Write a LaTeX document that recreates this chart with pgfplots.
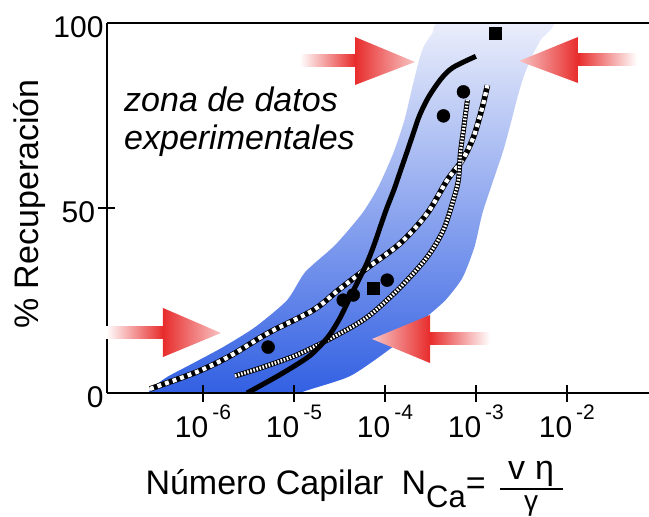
\documentclass[border=0pt]{standalone}
\usepackage{pgfplots}
\pgfplotsset{compat=1.18}
\usepackage{fontspec}
\setmainfont{Liberation Sans}
\definecolor{bandbot}{RGB}{45,92,226}
\definecolor{bandmid}{RGB}{122,150,236}
\definecolor{bandtop}{RGB}{236,239,251}
\definecolor{arred}{RGB}{232,44,44}
\definecolor{arpink}{RGB}{248,196,196}
\newcommand\ex[1]{\hspace{4pt}\raisebox{18pt}{\fontsize{21}{21}\selectfont #1}}
\newcommand\capfrac{\mbox{\rlap{\raisebox{4.5pt}{\rule{63pt}{1.8pt}}}\makebox[63pt]{\raisebox{15pt}{v\hspace{10pt}η}}\hspace{-63pt}\makebox[63pt]{\raisebox{-16pt}{\fontsize{28}{28}\selectfont γ}}}}
\begin{document}
\begin{tikzpicture}
\path[use as bounding box] (-107pt,-124pt) rectangle (542pt,393pt);
\begin{axis}[
  at={(0pt,0pt)}, anchor=south west,
  scale only axis, width=542pt, height=370pt,
  xmode=log, xmin=8.8e-8, xmax=0.08, ymin=0, ymax=100,
  axis x line=box, axis y line=left,
  axis line style={-, line width=1.6pt},
  axis on top,
  xtick={1e-6,1e-5,1e-4,1e-3,1e-2},
  xticklabels={10\ex{-6},10\ex{-5},10\ex{-4},10\ex{-3},10\ex{-2}},
  xtick pos=left, xminorticks=false,
  ytick={50}, yticklabels={50},
  extra y ticks={0,100}, extra y tick labels={0,100},
  extra y tick style={major tick length=0pt},
  tick align=center, major tick length=17pt,
  tick style={line width=1.6pt, black},
  tick label style={font=\fontsize{30}{30}\selectfont},
  yticklabel style={yshift=-4pt},
  label style={font=\fontsize{34}{40}\selectfont},
  ylabel={\% Recuperación},
  ylabel style={at={(axis description cs:-0.1255,0.511)}, anchor=base},
  xlabel={Número Capilar\hspace{18pt}N\raisebox{-13pt}{\fontsize{31}{31}\selectfont Ca}=\hspace{14pt}\capfrac},
  xlabel style={at={(axis description cs:0.0646,-0.273)}, anchor=base west},
]
% blue band of experimental data
\addplot[draw=none, smooth, tension=0.4, top color=bandtop, middle color=bandmid, bottom color=bandbot] coordinates {
 (1.10e-5,-3) (1.17e-5,0) (4.16e-5,4.6) (1.30e-4,13.0) (2.79e-4,20.3) (4.63e-4,25.1)
 (7.11e-4,31.1) (9.66e-4,39.5) (1.18e-3,48.6) (1.56e-3,57.6) (2.01e-3,65.7)
 (2.47e-3,73.8) (2.87e-3,80.0) (3.34e-3,85.4) (4.09e-3,90.8) (5.14e-3,95.4)
 (6.64e-3,100.5) (4.40e-4,100.5) (3.33e-4,97.3) (2.65e-4,93.5) (2.33e-4,89.2)
 (2.00e-4,82.7) (1.64e-4,73.8) (1.24e-4,64.9) (8.46e-5,55.7) (5.64e-5,48.6)
 (2.84e-5,40.0) (1.33e-5,32.7) (8.41e-6,25.1) (3.74e-6,17.8) (1.66e-6,12.4)
 (7.19e-7,7.6) (4.02e-7,4.3) (2.61e-7,0.8) (2.40e-7,-3)
} -- cycle;
% line A (coarse dashed)
\addplot[black, line width=5.6pt, smooth] coordinates {
 (2.61e-7,1.1) (8.59e-7,5.7) (1.98e-6,10.0) (5.20e-6,16.2) (1.63e-5,22.4) (3.07e-5,27.8)
 (6.40e-5,33.8) (1.48e-4,40.5) (2.93e-4,48.6) (4.86e-4,57.6) (7.11e-4,63.0)
 (9.42e-4,69.2) (1.18e-3,77.3) (1.34e-3,83.2)};
\addplot[white, line width=4.2pt, dash pattern=on 4pt off 4pt, smooth] coordinates {
 (2.61e-7,1.1) (8.59e-7,5.7) (1.98e-6,10.0) (5.20e-6,16.2) (1.63e-5,22.4) (3.07e-5,27.8)
 (6.40e-5,33.8) (1.48e-4,40.5) (2.93e-4,48.6) (4.86e-4,57.6) (7.11e-4,63.0)
 (9.42e-4,69.2) (1.18e-3,77.3) (1.34e-3,83.2)};
% line B (fine hatched)
\addplot[black, line width=5pt, smooth] coordinates {
 (2.25e-6,4.6) (4.58e-6,7.0) (1.08e-5,10.3) (2.70e-5,15.1) (6.40e-5,20.5) (1.48e-4,28.6)
 (2.93e-4,36.8) (4.40e-4,44.1) (5.66e-4,52.2) (6.43e-4,57.6) (6.76e-4,64.9)
 (7.30e-4,71.1) (8.07e-4,79.2)};
\addplot[white, line width=3.4pt, dash pattern=on 1.6pt off 1.6pt, smooth] coordinates {
 (2.25e-6,4.6) (4.58e-6,7.0) (1.08e-5,10.3) (2.70e-5,15.1) (6.40e-5,20.5) (1.48e-4,28.6)
 (2.93e-4,36.8) (4.40e-4,44.1) (5.66e-4,52.2) (6.43e-4,57.6) (6.76e-4,64.9)
 (7.30e-4,71.1) (8.07e-4,79.2)};
% line C (solid)
\addplot[black, line width=5pt, smooth] coordinates {
 (3.05e-6,0) (7.08e-6,5) (1.48e-5,10) (2.34e-5,15) (3.16e-5,20) (3.98e-5,25)
 (5.01e-5,30) (6.31e-5,35) (7.59e-5,40) (8.91e-5,45) (1.05e-4,50) (1.26e-4,55)
 (1.48e-4,60) (1.74e-4,65) (2.04e-4,70) (2.40e-4,75) (3.02e-4,80) (4.17e-4,85)
 (5.62e-4,88) (1.0e-3,91)};
% experimental points
\addplot[only marks, mark=*, mark size=6.5pt, black] coordinates {
 (5.20e-6,12.4) (3.48e-5,25.1) (4.49e-5,26.5) (1.06e-4,30.5) (4.40e-4,74.9) (7.30e-4,81.4)};
\addplot[only marks, mark=square*, mark size=6pt, black] coordinates {
 (7.45e-5,28.4) (1.64e-3,97.3)};
\end{axis}
% red arrows
\shade[left color=white, right color=arred] (193pt,326pt) rectangle (248pt,338pt);
\shade[left color=arred, right color=arpink] (248pt,356pt) -- (308pt,331pt) -- (248pt,308pt) -- cycle;
\shade[left color=arred, right color=white] (471pt,327pt) rectangle (530pt,339pt);
\shade[left color=arpink, right color=arred] (471pt,356pt) -- (412pt,332pt) -- (471pt,310pt) -- cycle;
\shade[left color=white, right color=arred] (-1pt,54pt) rectangle (56pt,66pt);
\shade[left color=arred, right color=arpink] (56pt,85pt) -- (114pt,60pt) -- (56pt,36pt) -- cycle;
\shade[left color=arred, right color=white] (323pt,48pt) rectangle (383pt,60pt);
\shade[left color=arpink, right color=arred] (323pt,78pt) -- (265pt,54pt) -- (323pt,30pt) -- cycle;
% annotation
\node[anchor=base west, font=\itshape\fontsize{34}{40}\selectfont, inner sep=0pt] at (17pt,281pt) {zona de datos};
\node[anchor=base west, font=\itshape\fontsize{34}{40}\selectfont, inner sep=0pt] at (17pt,243pt) {experimentales};
\end{tikzpicture}
\end{document}
